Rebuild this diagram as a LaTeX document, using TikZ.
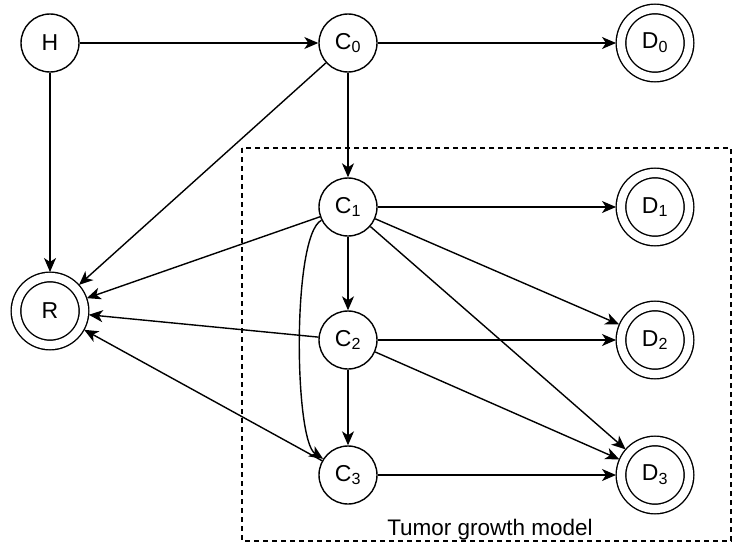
\documentclass[tikz,border=0pt]{standalone}
\usepackage{fontspec}
\setmainfont{Liberation Sans}
\usetikzlibrary{arrows.meta}

\tikzset{
  state/.style={circle, draw, line width=1.4pt, minimum size=58pt, inner sep=0pt,
    font=\fontsize{23}{27}\selectfont},
  absorb/.style={circle, draw, line width=1.4pt, double, double distance=8.2pt,
    minimum size=68pt, inner sep=0pt, outer sep=5pt, font=\fontsize{23}{27}\selectfont},
  arr/.style={line width=1.4pt, -{Stealth[length=14pt, width=12pt, inset=4pt]}}
}

\begin{document}
\begin{tikzpicture}[x=1pt, y=-1pt]
\useasboundingbox (0,0) rectangle (734,546);

% model region
\draw[line width=1.2pt, dash pattern=on 5pt off 4pt] (242,148) rectangle (731,541);
\node[font=\fontsize{22.5}{26}\selectfont] (model) at (490,530) {Tumor growth model};

% states
\node[state] (h) at (50,43) {H};
\node[state] (c0) at (348,43) {C\textsubscript{0}};
\node[state] (c1) at (348,207) {C\textsubscript{1}};
\node[state] (c2) at (348,340) {C\textsubscript{2}};
\node[state] (c3) at (348,475) {C\textsubscript{3}};

\node[absorb] (r) at (50,311) {R};
\node[absorb] (d0) at (655,43) {D\textsubscript{0}};
\node[absorb] (d1) at (655,207) {D\textsubscript{1}};
\node[absorb] (d2) at (655,340) {D\textsubscript{2}};
\node[absorb] (d3) at (655,475) {D\textsubscript{3}};

% transitions
\draw[arr] (h) -- (c0);
\draw[arr] (h) -- (r);
\draw[arr] (c0) -- (d0);
\draw[arr] (c0) -- (c1);
\draw[arr] (c0) -- (r);

\draw[arr] (c1) -- (d1);
\draw[arr] (c1) -- (d2);
\draw[arr] (c1) -- (d3);
\draw[arr] (c1) -- (c2);
\draw[arr] (c1) -- (r);
\draw[arr] (c1) .. controls (292,235) and (294,440) .. (c3);

\draw[arr] (c2) -- (d2);
\draw[arr] (c2) -- (d3);
\draw[arr] (c2) -- (c3);
\draw[arr] (c2) -- (r);

\draw[arr] (c3) -- (d3);
\draw[arr] (c3) -- (r);

\end{tikzpicture}
\end{document}
